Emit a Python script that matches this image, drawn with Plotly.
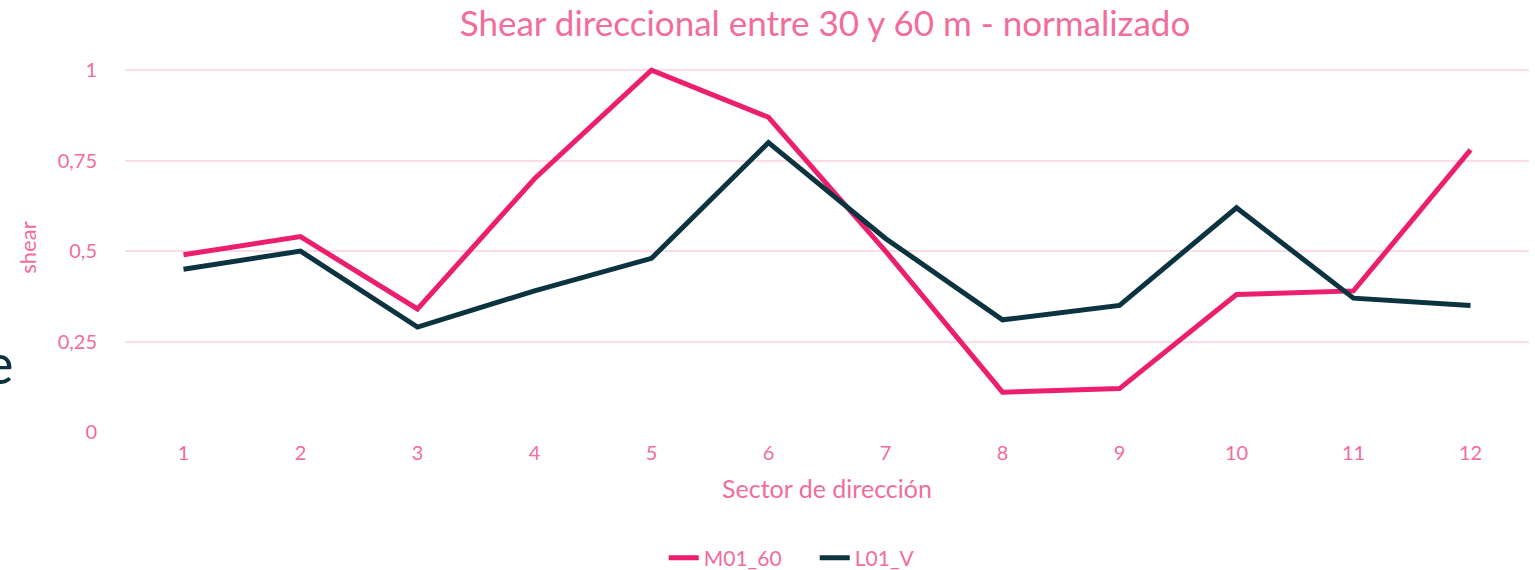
import plotly.graph_objects as go

# Direction sectors and normalized directional shear between 30 m and 60 m
sectors = [1, 2, 3, 4, 5, 6, 7, 8, 9, 10, 11, 12]
m01_60 = [0.49, 0.54, 0.34, 0.70, 1.00, 0.87, 0.50, 0.11, 0.12, 0.38, 0.39, 0.78]
l01_v = [0.45, 0.50, 0.29, 0.39, 0.48, 0.80, 0.535, 0.31, 0.35, 0.62, 0.37, 0.35]
y_ticks = [0, 0.25, 0.5, 0.75, 1]
y_tick_text = ["0", "0,25", "0,5", "0,75", "1"]

PINK = "#EC1F6E"
DARK = "#0C3440"
TEXT = "#F26C9C"
GRID = "#FCDDE7"
FONT = "Lato"

W, H = 1535, 570
L, R, T, B = 125, 6, 63, 138

fig = go.Figure()
fig.add_trace(go.Scatter(x=sectors, y=m01_60, mode="lines", name="M01_60",
                         line=dict(color=PINK, width=5)))
fig.add_trace(go.Scatter(x=sectors, y=l01_v, mode="lines", name="L01_V",
                         line=dict(color=DARK, width=5)))

fig.update_layout(
    width=W, height=H,
    margin=dict(l=L, r=R, t=T, b=B),
    paper_bgcolor="white", plot_bgcolor="white",
    font=dict(family=FONT, color=TEXT, size=20),
    title=dict(text="Shear direccional entre 30 y 60 m - normalizado",
               xref="container", x=825 / W, xanchor="center",
               y=1 - 24 / H, yanchor="middle",
               font=dict(size=35, color=TEXT, family=FONT)),
    showlegend=True,
    legend=dict(orientation="h", x=589 / W, xanchor="left",
                yref="container", y=1 - 558 / H, yanchor="middle",
                entrywidth=106, entrywidthmode="pixels",
                font=dict(size=21, color=TEXT), itemwidth=30,
                bgcolor="rgba(0,0,0,0)"),
    xaxis=dict(range=[0.5, 12.5], tickmode="array", tickvals=sectors,
               ticktext=[str(s) for s in sectors], showgrid=False, zeroline=False,
               showline=False, ticks="", ticklabelstandoff=7, automargin=False,
               tickfont=dict(size=20, color=TEXT),
               title=dict(text="Sector de dirección", font=dict(size=25, color=TEXT),
                          standoff=17)),
    yaxis=dict(range=[0, 1.02], tickmode="array", tickvals=y_ticks, ticktext=y_tick_text,
               showgrid=True, gridcolor=GRID, gridwidth=2, zeroline=False,
               showline=False, ticks="", ticklabelstandoff=27, automargin=False,
               tickfont=dict(size=20, color=TEXT),
               title=dict(text="shear", font=dict(size=22, color=TEXT), standoff=14)),
)

# large dark letter partly cut off at the left edge
fig.add_annotation(text="e", xref="paper", yref="paper",
                   x=(16 - L) / (W - L - R), y=(432 - 362) / (H - T - B),
                   xanchor="right", yanchor="middle", showarrow=False,
                   font=dict(size=56, color=DARK, family=FONT))

fig.write_html("out.html")
